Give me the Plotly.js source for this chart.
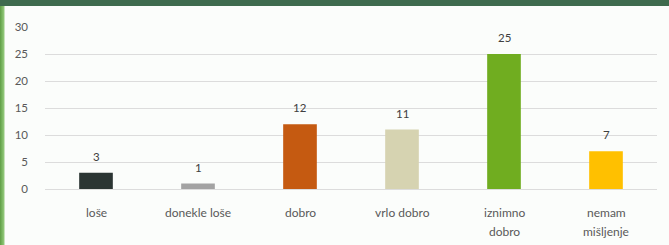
<!DOCTYPE html>
<html><head><meta charset="utf-8">
<script src="https://cdn.plot.ly/plotly-3.0.1.min.js"></script>
<style>
html,body{margin:0;padding:0;background:#fff;}
#wrap{position:relative;width:669px;height:245px;overflow:hidden;background:#fbfdfb;}
#topband{position:absolute;left:0;top:0;width:669px;height:6px;background:#3e6b4e;}
#leftband{position:absolute;left:0;top:6px;width:5px;height:239px;background:linear-gradient(to right,#5f9e45,#8cc474 70%,#e6f2e0);}
#chart{position:absolute;left:0;top:0;width:669px;height:245px;}
</style></head>
<body>
<div id="wrap"><div id="chart"></div><div id="topband"></div><div id="leftband"></div></div>
<script>
const categories = ["loše", "donekle loše", "dobro", "vrlo dobro", "iznimno dobro", "nemam mišljenje"];
const labelLines = [["loše"], ["donekle loše"], ["dobro"], ["vrlo dobro"], ["iznimno", "dobro"], ["nemam", "mišljenje"]];
const values = [3, 1, 12, 11, 25, 7];
const colors = ["#2b3533", "#a3a3a3", "#c55a11", "#d6d3b1", "#70ad20", "#ffc000"];
const yTicks = [0, 5, 10, 15, 20, 25, 30];

const font = "Lato, 'Open Sans', sans-serif";
const annotations = [];
values.forEach((v, i) => {
  annotations.push({x: categories[i], y: v, xref: "x", yref: "y", text: String(v),
    showarrow: false, yanchor: "bottom", yshift: 8,
    font: {family: font, size: 11.5, color: "#404040"}});
});
labelLines.forEach((lines, i) => {
  lines.forEach((t, j) => {
    annotations.push({x: categories[i], y: 0, xref: "x", yref: "paper", text: t,
      showarrow: false, yanchor: "middle", yshift: -23 - j * 19,
      font: {family: font, size: 12, color: "#595959"}});
  });
});

Plotly.newPlot("chart", [{
  type: "bar",
  x: categories,
  y: values,
  marker: {color: colors},
  width: 0.33,
  hoverinfo: "none"
}], {
  width: 669, height: 245,
  margin: {l: 45, r: 12, t: 27, b: 56},
  paper_bgcolor: "rgba(0,0,0,0)",
  plot_bgcolor: "rgba(0,0,0,0)",
  showlegend: false,
  annotations: annotations,
  xaxis: {
    showgrid: false, zeroline: false, showline: false, showticklabels: false
  },
  yaxis: {
    range: [0, 30], tickvals: yTicks, ticktext: yTicks.map(String),
    gridcolor: "#dcdcdc", gridwidth: 1,
    zeroline: true, zerolinecolor: "#dcdcdc", zerolinewidth: 1,
    showline: false,
    tickfont: {family: font, size: 11.5, color: "#595959"},
    ticklabelstandoff: 16
  }
}, {staticPlot: true});
</script>
</body></html>
